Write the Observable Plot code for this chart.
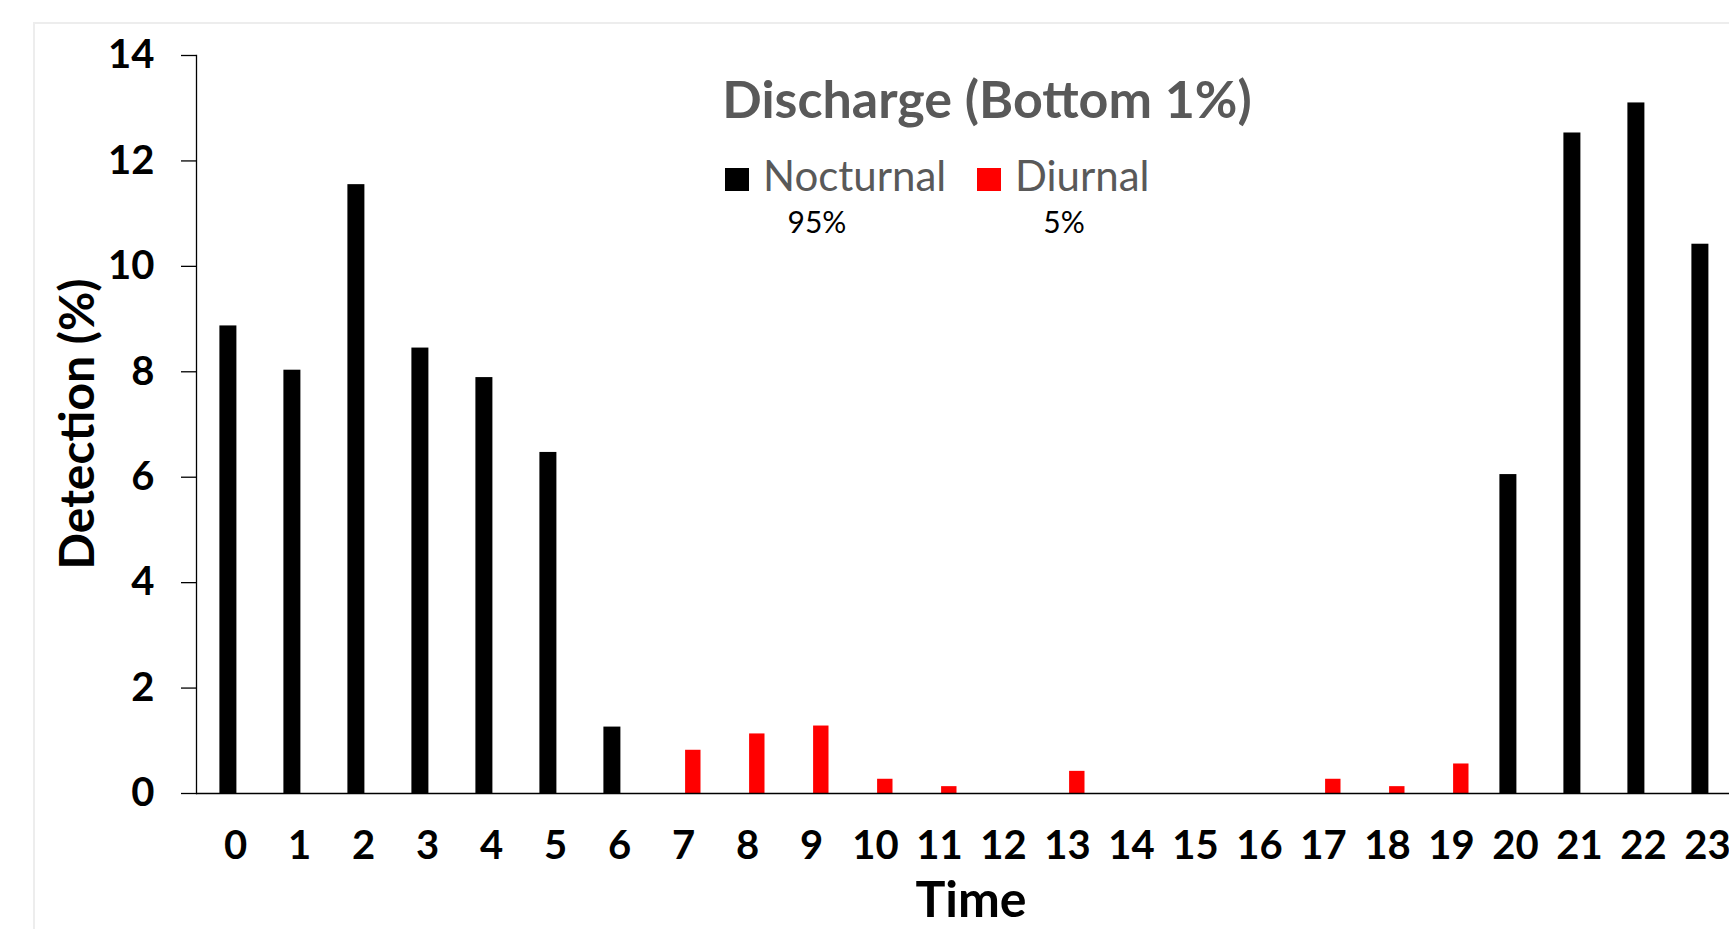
<!DOCTYPE html>
<html><head><meta charset="utf-8">
<script src="https://cdn.jsdelivr.net/npm/d3@7"></script>
<script src="https://cdn.jsdelivr.net/npm/@observablehq/plot@0.6"></script>
<style>
html,body{margin:0;padding:0;background:#fff;overflow:hidden;width:1729px;height:929px;}
#wrap{position:relative;width:1729px;height:929px;overflow:hidden;font-family:Lato, sans-serif;}
#border{position:absolute;left:33px;top:22px;right:0;bottom:0;border-left:2px solid #ededed;border-top:2px solid #ededed;}
#chart{position:absolute;left:0;top:0;width:1745px;}
#chart svg{max-width:none !important;}
#overlay{position:absolute;left:0;top:0;}
</style></head><body>
<div id="wrap">
  <div id="border"></div>
  <div id="chart"></div>
  <svg id="overlay" width="1729" height="929"></svg>
</div>
<script>
// ---- data ----
const hours = ["0","1","2","3","4","5","6","7","8","9","10","11","12","13","14","15","16","17","18","19","20","21","22","23"];
const nocturnal = [8.87, 8.03, 11.55, 8.45, 7.89, 6.47, 1.26, 0, 0, 0, 0, 0, 0, 0, 0, 0, 0, 0, 0, 0, 6.05, 12.53, 13.10, 10.42];
const diurnal   = [0, 0, 0, 0, 0, 0, 0, 0.82, 1.13, 1.28, 0.27, 0.13, 0, 0.42, 0, 0, 0, 0.27, 0.13, 0.56, 0, 0, 0, 0];
const yTicks = [0, 2, 4, 6, 8, 10, 12, 14];
const seriesNames = ["Nocturnal", "Diurnal"];
const seriesShares = ["95%", "5%"];
const seriesColors = ["#000000", "#ff0000"];
const titleText = "Discharge (Bottom 1%)";
const xTitle = "Time";
const yTitle = "Detection (%)";

const noctRows = hours.map((h, i) => ({hour: h, value: nocturnal[i]})).filter(d => d.value > 0);
const diurRows = hours.map((h, i) => ({hour: h, value: diurnal[i]})).filter(d => d.value > 0);

const plot = Plot.plot({
  width: 1745, height: 929,
  marginLeft: 196, marginRight: 0, marginTop: 55, marginBottom: 136,
  style: {fontFamily: "Lato, sans-serif", background: "transparent", color: "#000", overflow: "visible", maxWidth: "none"},
  x: {domain: hours, padding: 0, label: null},
  y: {domain: [0, 14], label: null},
  marks: [
    Plot.axisY({ticks: yTicks, tickSize: 15, tickPadding: 27, fontSize: 40, fontWeight: "bold", label: null, strokeWidth: 1.3}),
    Plot.axisX({tickSize: 0, tickPadding: 53, lineAnchor: "middle", fontSize: 40, fontWeight: "bold", label: null}),
    Plot.frame({anchor: "left", strokeWidth: 1.3}),
    Plot.barY(noctRows, {x: "hour", y: "value", fill: seriesColors[0], insetLeft: 16.4, insetRight: 30.6}),
    Plot.barY(diurRows, {x: "hour", y: "value", fill: seriesColors[1], insetLeft: 34.1, insetRight: 14.5}),
    Plot.ruleY([0], {strokeWidth: 1.3})
  ]
});
document.getElementById("chart").appendChild(plot);

// ---- titles & legend ----
const svg = d3.select("#overlay").style("font-family", "Lato, sans-serif");
svg.append("text").attr("x", 987).attr("y", 118).attr("text-anchor", "middle")
  .attr("font-size", 52).attr("font-weight", "bold").attr("fill", "#595959").text(titleText);
svg.append("text").attr("x", 971).attr("y", 917).attr("text-anchor", "middle")
  .attr("font-size", 50).attr("font-weight", "bold").attr("fill", "#000").text(xTitle);
svg.append("text").attr("transform", "translate(94,424) rotate(-90)").attr("text-anchor", "middle")
  .attr("font-size", 48).attr("font-weight", "bold").attr("fill", "#000").text(yTitle);

const legX = [725, 977];
const shareX = [817, 1064];
seriesNames.forEach((name, i) => {
  svg.append("rect").attr("x", legX[i]).attr("y", 168).attr("width", 24).attr("height", 23).attr("fill", seriesColors[i]);
  svg.append("text").attr("x", legX[i] + 38).attr("y", 191).attr("font-size", 42)
    .attr("fill", "#595959").text(name);
  svg.append("text").attr("x", shareX[i]).attr("y", 233).attr("text-anchor", "middle").attr("font-size", 30)
    .attr("fill", "#000").text(seriesShares[i]);
});
</script>
</body></html>
